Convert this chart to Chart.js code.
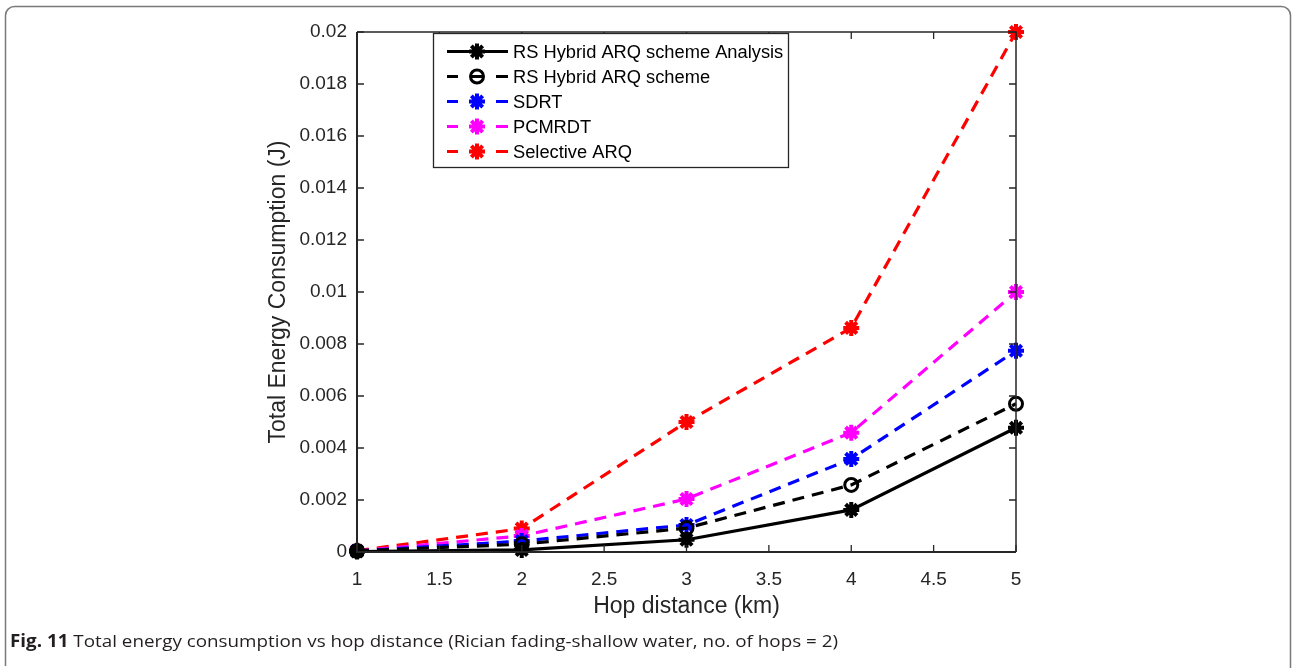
<!DOCTYPE html>
<html>
<head>
<meta charset="utf-8">
<script src="https://cdn.jsdelivr.net/npm/chart.js@4.4.1/dist/chart.umd.min.js"></script>
<style>
  html, body { margin: 0; padding: 0; background: #fff; }
  #wrap { width: 1292px; height: 668px; position: relative; }
</style>
</head>
<body>
<div id="wrap"><canvas id="c" width="1292" height="668"></canvas></div>
<script>
const hopDistance = [1, 2, 3, 4, 5];
const rsHybridAnalysis = [0.00002, 0.00008, 0.00047, 0.00162, 0.00478];
const rsHybrid = [0.00004, 0.00030, 0.00092, 0.00258, 0.00570];
const sdrt = [0.00004, 0.00042, 0.00104, 0.00358, 0.00774];
const pcmrdt = [0.00004, 0.00062, 0.00204, 0.00459, 0.01000];
const selectiveArq = [0.00005, 0.00090, 0.00500, 0.00862, 0.02000];
const seriesNames = ['RS Hybrid ARQ scheme Analysis', 'RS Hybrid ARQ scheme', 'SDRT', 'PCMRDT', 'Selective ARQ'];
const xTicks = [1, 1.5, 2, 2.5, 3, 3.5, 4, 4.5, 5];
const yTicks = [0, 0.002, 0.004, 0.006, 0.008, 0.01, 0.012, 0.014, 0.016, 0.018, 0.02];
const xTitle = 'Hop distance (km)';
const yTitle = 'Total Energy Consumption (J)';
const captionBold = 'Fig. 11';
const captionText = ' Total energy consumption vs hop distance (Rician fading-shallow water, no. of hops = 2)';

const toXY = arr => arr.map((v, i) => ({x: hopDistance[i], y: v}));
const DASH = [12, 8];

function ds(label, data, color, dashed, pointStyle) {
  const isCircle = pointStyle === 'circle';
  return {
    label, data: toXY(data),
    borderColor: color, backgroundColor: isCircle ? 'rgba(0,0,0,0)' : color,
    borderWidth: 3.2, borderDash: dashed ? DASH : [],
    pointStyle, pointRadius: isCircle ? 6.5 : 8,
    pointBorderWidth: isCircle ? 3 : 4,
    pointBorderColor: color, pointBackgroundColor: isCircle ? 'rgba(0,0,0,0)' : color,
    tension: 0, fill: false, clip: false
  };
}

const datasets = [
  ds(seriesNames[0], rsHybridAnalysis, '#000000', false, 'star'),
  ds(seriesNames[1], rsHybrid, '#000000', true, 'circle'),
  ds(seriesNames[2], sdrt, '#0000ff', true, 'star'),
  ds(seriesNames[3], pcmrdt, '#ff00ff', true, 'star'),
  ds(seriesNames[4], selectiveArq, '#ff0000', true, 'star')
];

const AXIS = '#262626';
const FONT = "'Liberation Sans', Arial, sans-serif";

const decor = {
  id: 'decor',
  beforeDraw(chart) {
    const ctx = chart.ctx;
    ctx.save();
    ctx.strokeStyle = '#7a7a7a';
    ctx.lineWidth = 1.5;
    const l = 5.5, t = 6.5, r = 1290.5, b = 668, rad = 9;
    ctx.beginPath();
    ctx.moveTo(l, 666);
    ctx.lineTo(l, t + rad);
    ctx.arcTo(l, t, l + rad, t, rad);
    ctx.lineTo(r - rad, t);
    ctx.arcTo(r, t, r, t + rad, rad);
    ctx.lineTo(r, b);
    ctx.stroke();
    ctx.restore();
  },
  afterDatasetsDraw(chart) {
    const ctx = chart.ctx;
    const a = chart.chartArea;
    const xs = chart.scales.x, ys = chart.scales.y;
    ctx.save();
    ctx.strokeStyle = AXIS;
    ctx.lineWidth = 2;
    ctx.beginPath();
    ctx.moveTo(a.left, a.top); ctx.lineTo(a.left, a.bottom); ctx.lineTo(a.right, a.bottom);
    ctx.stroke();
    ctx.lineWidth = 1.5;
    ctx.beginPath();
    ctx.moveTo(a.left, a.top); ctx.lineTo(a.right, a.top); ctx.lineTo(a.right, a.bottom);
    ctx.stroke();
    ctx.lineWidth = 1.3;
    const tl = 7;
    ctx.beginPath();
    xTicks.forEach(v => {
      const px = xs.getPixelForValue(v);
      ctx.moveTo(px, a.bottom); ctx.lineTo(px, a.bottom - tl);
      ctx.moveTo(px, a.top); ctx.lineTo(px, a.top + tl);
    });
    yTicks.forEach(v => {
      const py = ys.getPixelForValue(v);
      ctx.moveTo(a.left, py); ctx.lineTo(a.left + tl, py);
      ctx.moveTo(a.right, py); ctx.lineTo(a.right - tl, py);
    });
    ctx.stroke();

    // legend box
    const lx = 433, ly = 33, lw = 355, lh = 134;
    ctx.fillStyle = '#fff';
    ctx.fillRect(lx, ly, lw, lh);
    ctx.strokeStyle = AXIS;
    ctx.lineWidth = 1.3;
    ctx.strokeRect(lx + 0.5, ly + 0.5, lw, lh);
    const rowH = 25, y0 = 51.5, mx = 477;
    chart.data.datasets.forEach((d, i) => {
      const y = y0 + i * rowH;
      ctx.save();
      ctx.strokeStyle = d.borderColor;
      ctx.lineWidth = 3.2;
      ctx.beginPath();
      if (d.borderDash.length) {
        ctx.moveTo(447, y); ctx.lineTo(458, y);
        ctx.moveTo(470, y); ctx.lineTo(484, y);
        ctx.moveTo(496, y); ctx.lineTo(508, y);
      } else {
        ctx.moveTo(447, y); ctx.lineTo(508, y);
      }
      ctx.stroke();
      ctx.strokeStyle = d.pointBorderColor;
      ctx.fillStyle = d.pointBackgroundColor;
      ctx.lineWidth = d.pointBorderWidth;
      Chart.helpers.drawPoint(ctx, {
        pointStyle: d.pointStyle, radius: d.pointRadius, borderWidth: d.pointBorderWidth, rotation: 0
      }, mx, y);
      ctx.restore();
      ctx.fillStyle = '#000';
      ctx.font = '18.3px ' + FONT;
      ctx.textBaseline = 'middle';
      ctx.textAlign = 'left';
      ctx.fillText(d.label, 513, y + 1);
    });

    // caption
    ctx.textBaseline = 'alphabetic';
    ctx.fillStyle = '#231f20';
    const capFont = "'Open Sans', 'Noto Sans', sans-serif";
    const cs = 17;
    ctx.font = 'bold ' + cs + 'px ' + capFont;
    const wb = ctx.measureText(captionBold).width;
    ctx.font = cs + 'px ' + capFont;
    const wt = ctx.measureText(captionText).width;
    const target = 828;
    const sx = target / (wb + wt);
    ctx.save();
    ctx.translate(10, 647);
    ctx.scale(sx, 1);
    ctx.font = 'bold ' + cs + 'px ' + capFont;
    ctx.fillText(captionBold, 0, 0);
    ctx.font = cs + 'px ' + capFont;
    ctx.fillText(captionText, wb, 0);
    ctx.restore();
    ctx.restore();
  }
};

new Chart(document.getElementById('c'), {
  type: 'line',
  data: { datasets },
  options: {
    responsive: false,
    animation: false,
    devicePixelRatio: 1,
    layout: { padding: { left: 252, right: 276, top: 32, bottom: 46 } },
    plugins: { legend: { display: false }, tooltip: { enabled: false } },
    scales: {
      x: {
        type: 'linear', min: 1, max: 5,
        afterFit(s) { s.height = 70; },
        afterBuildTicks(s) { s.ticks = xTicks.map(v => ({value: v})); },
        grid: { display: false, drawTicks: false, tickLength: 0 }, border: { display: false },
        ticks: { color: AXIS, font: { family: FONT, size: 19 }, padding: 16, maxRotation: 0, autoSkip: false,
                 callback: v => String(v) },
        title: { display: true, text: xTitle, color: AXIS, font: { family: FONT, size: 23 }, padding: { top: 0, bottom: 2 } }
      },
      y: {
        type: 'linear', min: 0, max: 0.02,
        afterFit(s) { s.width = 105; },
        afterBuildTicks(s) { s.ticks = yTicks.map(v => ({value: v})); },
        grid: { display: false, drawTicks: false, tickLength: 0 }, border: { display: false },
        ticks: { color: AXIS, font: { family: FONT, size: 19 }, padding: 10, autoSkip: false,
                 callback: v => String(Number(v.toFixed(4))) },
        title: { display: true, text: yTitle, color: AXIS, font: { family: FONT, size: 23 }, padding: { top: 13.2, bottom: 0 } }
      }
    }
  },
  plugins: [decor]
});
</script>
</body>
</html>
